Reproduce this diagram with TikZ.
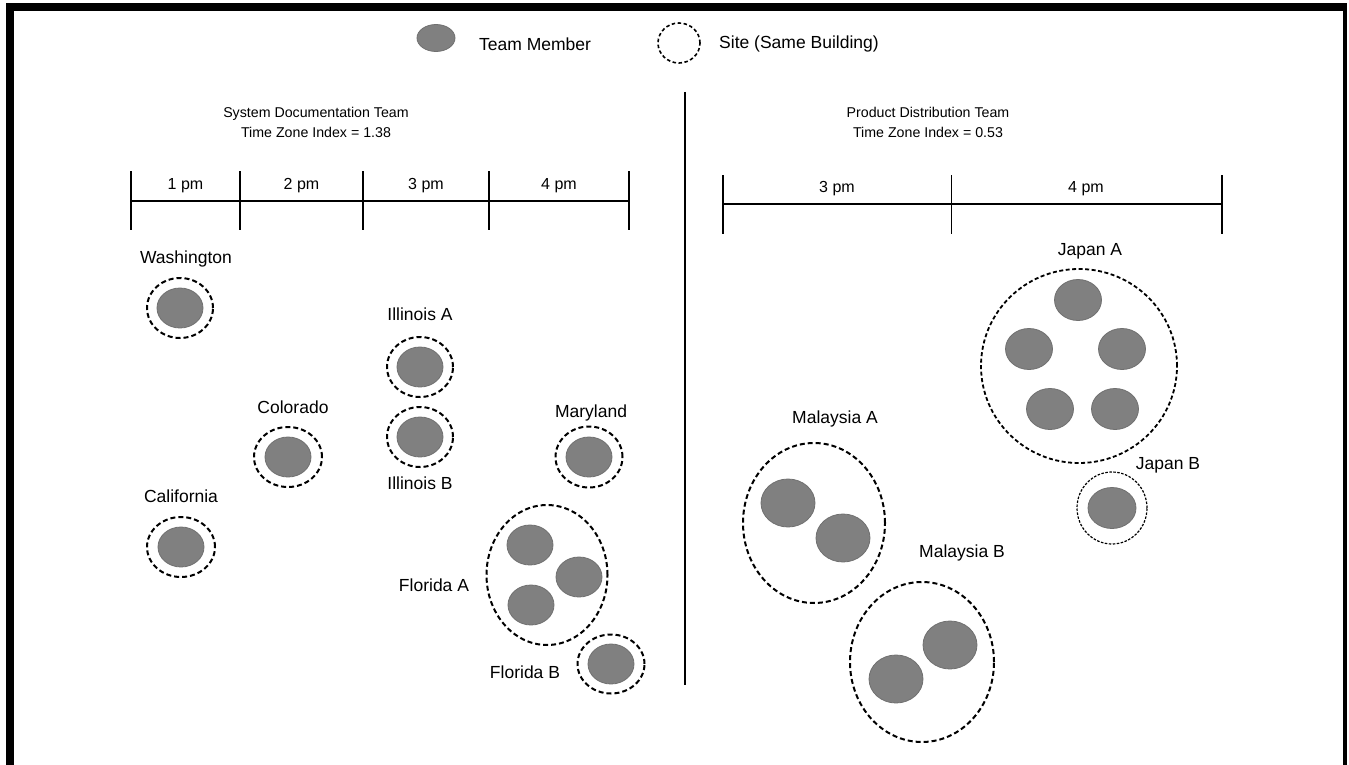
\documentclass[tikz,border=0pt]{standalone}
\usepackage{fontspec}
\setmainfont{Liberation Sans}
\usetikzlibrary{shapes.geometric}
\definecolor{membergray}{RGB}{128,128,128}
\definecolor{memberedge}{RGB}{112,112,112}

\begin{document}
\begin{tikzpicture}[x=1pt,y=-1pt,
  member/.style={ellipse,fill=membergray,draw=memberedge,line width=0.8pt,inner sep=0pt,minimum width=46pt,minimum height=40pt},
  site/.style={ellipse,draw,line width=2pt,dash pattern=on 5pt off 3pt,inner sep=0pt},
  lbl/.style={font=\fontsize{17.5}{20}\selectfont,inner sep=1pt},
  title/.style={font=\fontsize{14.2}{20}\selectfont,align=center,inner sep=1pt},
  hour/.style={font=\fontsize{16}{20}\selectfont,inner sep=1pt},
  axis/.style={line width=2pt}]
\useasboundingbox (0,0) rectangle (1349,765);
\fill[white] (0,0) rectangle (1349,765);
% frame
\draw[line width=8pt] (10,765) -- (10,7) -- (1347,7);
\draw[line width=4pt] (1345,7) -- (1345,765);

% legend
\node[member,minimum width=38pt,minimum height=27pt] (keymember) at (436,38) {};
\node[lbl,anchor=west] (keymembertext) at (478,44) {Team Member};
\node[site,minimum width=42pt,minimum height=40pt,line width=1.6pt,dash pattern=on 3.5pt off 2.5pt] (keysite) at (679,43) {};
\node[lbl,anchor=west] (keysitetext) at (718,44) {Site (Same Building)};

% divider between the two teams
\draw[line width=1.5pt] (685,92) -- (685,685);

% left team: titles and hours
\node[title] (docteam) at (316,122) {System Documentation Team\\Time Zone Index = 1.38};
\draw[axis] (131,201) -- (629,201);
\foreach \x in {131,240,363,489,629}
  \draw[axis] (\x,171) -- (\x,230);
\foreach \x/\t [count=\i] in {185.5/1 pm,301.5/2 pm,426/3 pm,559/4 pm}
  \node[hour] (dochour\i) at (\x,186) {\t};

% right team: titles and hours
\node[title] (distteam) at (928,122) {Product Distribution Team\\Time Zone Index = 0.53};
\draw[axis] (723,204) -- (1222,204);
\draw[axis] (723,175) -- (723,234);
\draw[axis] (1222,175) -- (1222,234);
\draw[line width=1pt] (951,175) -- (951,234);
\node[hour] (disthour1) at (837,189) {3 pm};
\node[hour] (disthour2) at (1086,189) {4 pm};

% single-member sites
\node[site,minimum width=66pt,minimum height=60pt] (washington) at (180,308) {};
\node[member] (washingtonA) at (washington) {};
\node[lbl] (washingtonlbl) at (186,259) {Washington};

\node[site,minimum width=68pt,minimum height=60pt] (california) at (181,547) {};
\node[member] (californiaA) at (california) {};
\node[lbl] (californialbl) at (181,496) {California};

\node[site,minimum width=68pt,minimum height=60pt] (colorado) at (288,457) {};
\node[member] (coloradoA) at (colorado) {};
\node[lbl] (coloradolbl) at (293,407) {Colorado};

\node[site,minimum width=66pt,minimum height=60pt] (illinoisa) at (420,367) {};
\node[member] (illinoisaA) at (illinoisa) {};
\node[lbl] (illinoisalbl) at (420,314) {Illinois A};

\node[site,minimum width=66pt,minimum height=60pt] (illinoisb) at (420,437) {};
\node[member] (illinoisbA) at (illinoisb) {};
\node[lbl] (illinoisblbl) at (420,483) {Illinois B};

\node[site,minimum width=67pt,minimum height=61pt] (maryland) at (589,457) {};
\node[member] (marylandA) at (maryland) {};
\node[lbl] (marylandlbl) at (591,413) {Maryland};

\node[site,minimum width=67pt,minimum height=59pt] (floridab) at (611,664) {};
\node[member] (floridabA) at (floridab) {};
\node[lbl] (floridablbl) at (525,672) {Florida B};

% Florida A, three members
\node[site,minimum width=121pt,minimum height=140pt] (floridaa) at (547,575) {};
\node[member] (floridaaA) at (530,545) {};
\node[member] (floridaaB) at (579,577) {};
\node[member] (floridaaC) at (531,605) {};
\node[lbl] (floridaalbl) at (434,585) {Florida A};

% Japan A, five members
\node[site,minimum width=196pt,minimum height=194pt,line width=1.8pt,dash pattern=on 4pt off 2.5pt] (japana) at (1079,366) {};
\node[member,minimum width=47pt,minimum height=41pt] (japanaA) at (1078,300) {};
\node[member,minimum width=47pt,minimum height=41pt] (japanaB) at (1029,349) {};
\node[member,minimum width=47pt,minimum height=41pt] (japanaC) at (1122,349) {};
\node[member,minimum width=47pt,minimum height=41pt] (japanaD) at (1050,409) {};
\node[member,minimum width=47pt,minimum height=41pt] (japanaE) at (1115,409) {};
\node[lbl] (japanalbl) at (1090,251) {Japan A};

% Japan B
\node[site,minimum width=70pt,minimum height=72pt,line width=1.2pt,dash pattern=on 2.5pt off 1.5pt] (japanb) at (1112,508) {};
\node[member,minimum width=48pt,minimum height=41pt] (japanbA) at (japanb) {};
\node[lbl] (japanblbl) at (1168,465) {Japan B};

% Malaysia A and B, two members each
\node[site,minimum width=142pt,minimum height=160pt] (malaysiaa) at (814,523) {};
\node[member,minimum width=54pt,minimum height=48pt] (malaysiaaA) at (788,503) {};
\node[member,minimum width=54pt,minimum height=48pt] (malaysiaaB) at (843,538) {};
\node[lbl] (malaysiaalbl) at (835,419) {Malaysia A};

\node[site,minimum width=144pt,minimum height=160pt] (malaysiab) at (922,662) {};
\node[member,minimum width=54pt,minimum height=48pt] (malaysiabA) at (950,645) {};
\node[member,minimum width=54pt,minimum height=48pt] (malaysiabB) at (896,679) {};
\node[lbl] (malaysiablbl) at (962,553) {Malaysia B};
\end{tikzpicture}
\end{document}
